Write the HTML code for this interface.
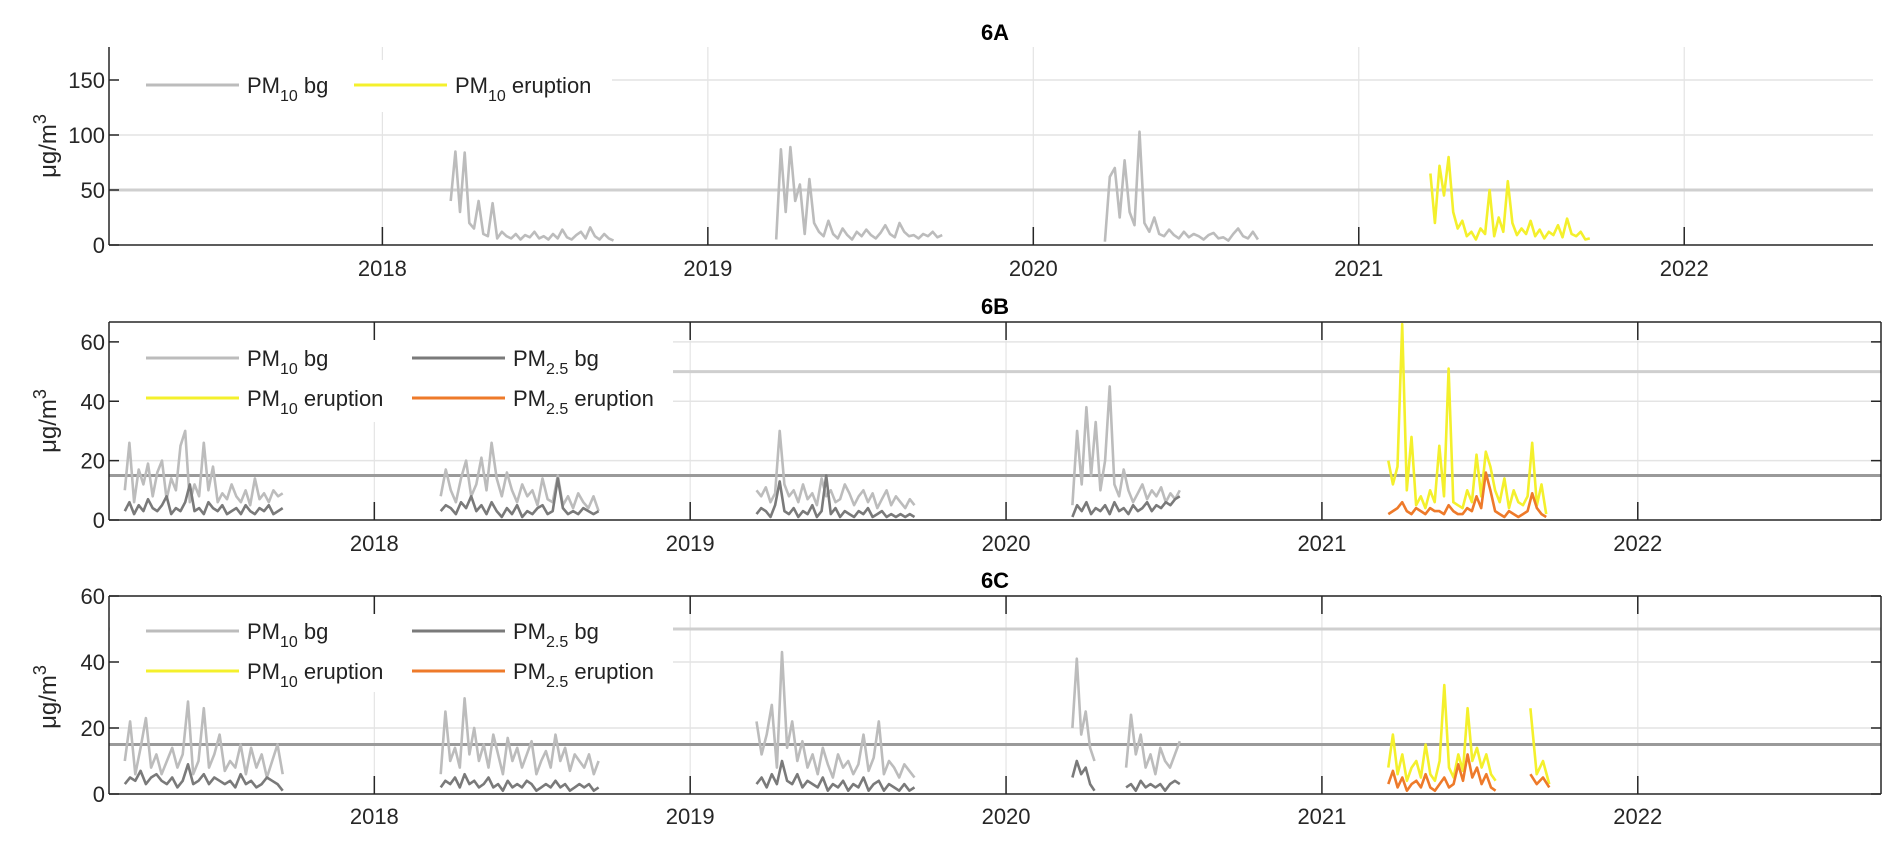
<!DOCTYPE html>
<html><head><meta charset="utf-8">
<style>
html,body{margin:0;padding:0;background:#fff;}
svg{display:block;font-family:"Liberation Sans Narrow","Liberation Sans",sans-serif;}
</style></head>
<body>
<svg id="chart" width="1892" height="842" viewBox="0 0 1892 842" xmlns="http://www.w3.org/2000/svg"></svg>
<script>
// ---------- DATA ----------
const yearTicks = [2018, 2019, 2020, 2021, 2022];
const panelTitles = ["6A", "6B", "6C"];
const yTicksA = [0, 50, 100, 150];
const yTicksBC = [0, 20, 40, 60];
const refLinesA = [50];
const refLinesBC = [50, 15];

// Panel A PM10 bg
const a10Start = [2018.21, 2019.21, 2020.22];
const a10End = [2018.71, 2019.72, 2020.69];
const a10Vals = [
 [40,85,30,84,20,15,40,10,8,38,6,12,8,6,10,5,9,7,12,6,8,5,10,6,14,7,5,9,12,6,16,8,5,10,6,4],
 [5,87,30,89,40,55,10,60,20,12,8,22,10,6,15,9,5,12,8,14,9,6,11,18,10,7,20,12,8,9,6,10,8,12,7,9],
 [3,62,70,25,77,30,18,103,20,12,25,10,8,14,9,6,12,7,10,8,5,9,11,6,7,4,10,15,8,6,12,5]
];
// Panel A PM10 eruption
const aEruStart = [2021.22];
const aEruEnd = [2021.71];
const aEruVals = [
 [65,20,72,45,80,30,15,22,8,12,5,15,10,50,8,25,12,58,20,9,15,10,22,8,14,6,12,9,18,7,24,10,8,12,5,6]
];

// Panel B
const b10Start = [2017.21, 2018.21, 2019.21, 2020.21];
const b10End = [2017.71, 2018.71, 2019.71, 2020.55];
const b10Vals = [
 [10,26,6,17,12,19,8,16,20,7,14,10,25,30,6,12,8,26,10,18,6,9,7,12,8,6,10,5,14,7,9,6,10,8,9],
 [8,17,10,6,14,20,8,12,21,10,26,14,8,16,10,6,12,8,10,5,14,7,6,15,5,8,4,9,6,4,8,3],
 [10,8,11,6,9,30,12,8,10,6,12,7,9,5,14,8,10,6,7,12,9,5,8,10,6,9,4,7,10,5,8,6,4,7,5],
 [5,30,12,38,15,33,10,20,45,12,8,17,10,6,9,12,7,10,8,11,6,9,7,10]
];
const b25Vals = [
 [3,6,2,5,3,7,4,3,5,8,2,4,3,6,12,3,4,2,6,4,3,5,2,3,4,2,5,3,2,4,3,5,2,3,4],
 [3,5,4,2,6,4,8,3,5,2,6,3,1,4,2,5,1,3,2,4,5,2,3,14,4,2,3,2,4,3,2,3],
 [2,4,3,1,5,13,3,2,4,1,3,2,5,1,3,15,2,4,1,3,2,1,3,2,4,1,2,3,1,2,1,2,1,2,1],
 [1,5,3,6,2,4,3,5,2,6,3,4,2,5,3,4,6,3,5,4,6,5,7,8]
];
const bEruStart = [2021.21];
const bEruEnd = [2021.71];
const bEru10Vals = [
 [20,12,18,66,10,28,5,8,4,10,6,25,8,51,6,5,4,10,6,22,8,23,18,10,6,14,4,10,6,5,8,26,5,12,2]
];
const bEru25Vals = [
 [2,3,4,6,3,2,4,3,2,4,3,3,2,5,3,2,2,4,3,8,4,16,10,3,2,1,3,2,1,2,3,9,4,2,1]
];

// Panel C
const c10Start = [2017.21, 2018.21, 2019.21, 2020.21, 2020.38];
const c10End = [2017.71, 2018.71, 2019.71, 2020.28, 2020.55];
const c10Vals = [
 [10,22,6,14,23,8,12,6,10,14,8,12,28,6,10,26,8,12,18,7,10,8,15,6,14,8,12,5,10,15,6],
 [6,25,10,14,8,29,12,20,10,15,8,18,12,6,17,10,14,8,12,16,6,10,13,8,18,10,14,7,12,10,8,12,6,10],
 [22,12,18,27,8,43,14,22,10,16,8,12,6,14,9,5,12,8,10,6,9,18,7,11,22,6,10,8,5,9,7,5],
 [20,41,18,25,14,10],
 [8,24,12,18,8,12,6,14,10,8,12,16]
];
const c25Vals = [
 [3,5,4,7,3,5,6,4,3,5,2,4,9,3,4,6,3,5,4,3,4,2,6,3,4,2,3,5,4,3,1],
 [2,4,3,5,2,6,3,4,2,3,5,2,3,1,4,2,3,2,4,3,1,2,3,2,4,2,3,1,2,3,2,3,1,2],
 [3,5,2,6,3,10,4,3,6,2,4,3,2,5,1,3,2,4,1,3,2,5,1,3,4,1,3,2,1,3,1,2],
 [5,10,6,8,3,1],
 [2,3,1,4,2,3,2,3,1,3,4,3]
];
const cEruStart = [2021.21, 2021.66];
const cEruEnd = [2021.55, 2021.72];
const cEru10Vals = [
 [8,18,6,12,4,8,10,5,15,6,4,10,33,8,5,12,7,26,10,14,8,12,6,4],
 [26,6,10,3]
];
const cEru25Vals = [
 [3,7,2,5,1,3,4,2,6,2,1,3,5,2,3,9,4,12,5,8,3,6,2,1],
 [6,3,5,2]
];

// ---------- DRAWING ----------
const NS = "http://www.w3.org/2000/svg";
const svg = document.getElementById("chart");
const COL = {p10bg:"#bcbcbc", p25bg:"#7a7a7a", p10e:"#f4f02c", p25e:"#ee7a2a"};

function mk(tag, attrs, parent){
  const e = document.createElementNS(NS, tag);
  for (const k in attrs) e.setAttribute(k, attrs[k]);
  (parent||svg).appendChild(e);
  return e;
}

const panels = [
 {title:panelTitles[0], left:109, right:1873, top:47, bottom:245, x0:2017.16, x1:2022.58, ymax:180, yTicks:yTicksA, refs:refLinesA, box:false, titleY:40, yearY:276, labelY:146,
  legend:{x:110,y:60,w:502,h:52}},
 {title:panelTitles[1], left:109, right:1881, top:322, bottom:520, x0:2017.16, x1:2022.77, ymax:66.7, yTicks:yTicksBC, refs:refLinesBC, box:true, titleY:314, yearY:551, labelY:421,
  legend:{x:110,y:330,w:563,h:92}},
 {title:panelTitles[2], left:109, right:1881, top:596, bottom:794, x0:2017.16, x1:2022.77, ymax:60, yTicks:yTicksBC, refs:refLinesBC, box:true, titleY:588, yearY:824, labelY:697,
  legend:{x:110,y:610,w:563,h:82}}
];

function xs(p, v){ return p.left + (v - p.x0) / (p.x1 - p.x0) * (p.right - p.left); }
function ys(p, v){ return p.bottom - v / p.ymax * (p.bottom - p.top); }

function drawSeries(p, g, starts, ends, vals, color, name){
  for (let s = 0; s < vals.length; s++){
    const arr = vals[s];
    const n = arr.length;
    let d = "";
    for (let i = 0; i < n; i++){
      const t = starts[s] + (ends[s] - starts[s]) * i / (n - 1);
      d += (i ? "L" : "M") + xs(p, t).toFixed(1) + "," + ys(p, arr[i]).toFixed(1);
    }
    const path = mk("path", {d:d, fill:"none", stroke:color, "stroke-width":2.6, "stroke-linejoin":"round"}, g);
    
    
  }
}

function legendEntry(g, x, y, color, sub, suffix, name){
  const grp = mk("g", {}, g);
  
  
  mk("line", {x1:x, y1:y, x2:x+93, y2:y, stroke:color, "stroke-width":3}, grp);
  const t = mk("text", {x:x+101, y:y+8, "font-size":22, fill:"#222"}, grp);
  t.appendChild(document.createTextNode("PM"));
  const ts = mk("tspan", {"font-size":16, dy:8}, t);
  ts.textContent = sub;
  const ts2 = mk("tspan", {dy:-8}, t);
  ts2.textContent = " " + suffix;
}

panels.forEach((p, pi) => {
  const key = ["a","b","c"][pi];
  const g = mk("g", {});
  
  

  // grid
  const grid = mk("g", {}, g);
  
  
  yearTicks.forEach(yr => { const x = xs(p, yr); mk("line", {x1:x, y1:p.top, x2:x, y2:p.bottom, stroke:"#e4e4e4", "stroke-width":1.2}, grid); });
  p.yTicks.forEach(v => { if (v > 0){ const y = ys(p, v); mk("line", {x1:p.left, y1:y, x2:p.right, y2:y, stroke:"#e4e4e4", "stroke-width":1.5}, grid); }});

  // reference lines
  p.refs.forEach((v, i) => {
    const y = ys(p, v);
    const l = mk("line", {x1:p.left, y1:y, x2:p.right, y2:y, stroke: v === 50 ? "#cfcfcf" : "#9a9a9a", "stroke-width":3}, g);
    
    
  });

  // series
  const sg = mk("g", {}, g);
  
  
  if (pi === 0){
    drawSeries(p, sg, a10Start, a10End, a10Vals, COL.p10bg, 'pm10-bg');
    drawSeries(p, sg, aEruStart, aEruEnd, aEruVals, COL.p10e, 'pm10-eruption');
  } else if (pi === 1){
    drawSeries(p, sg, b10Start, b10End, b10Vals, COL.p10bg, 'pm10-bg');
    drawSeries(p, sg, b10Start, b10End, b25Vals, COL.p25bg, 'pm25-bg');
    drawSeries(p, sg, bEruStart, bEruEnd, bEru10Vals, COL.p10e, 'pm10-eruption');
    drawSeries(p, sg, bEruStart, bEruEnd, bEru25Vals, COL.p25e, 'pm25-eruption');
  } else {
    drawSeries(p, sg, c10Start, c10End, c10Vals, COL.p10bg, 'pm10-bg');
    drawSeries(p, sg, c10Start, c10End, c25Vals, COL.p25bg, 'pm25-bg');
    drawSeries(p, sg, cEruStart, cEruEnd, cEru10Vals, COL.p10e, 'pm10-eruption');
    drawSeries(p, sg, cEruStart, cEruEnd, cEru25Vals, COL.p25e, 'pm25-eruption');
  }

  // legend
  const lg = mk("g", {}, g);
  
  
  mk("rect", {x:p.legend.x, y:p.legend.y, width:p.legend.w, height:p.legend.h, fill:"#fff"}, lg);
  if (pi === 0){
    legendEntry(lg, 146, 85, COL.p10bg, "10", "bg", 'legend-pm10-bg');
    legendEntry(lg, 354, 85, COL.p10e, "10", "eruption", 'legend-pm10-eruption');
  } else {
    const r1 = pi === 1 ? 358 : 631, r2 = pi === 1 ? 398 : 671;
    legendEntry(lg, 146, r1, COL.p10bg, "10", "bg", 'legend-pm10-bg');
    legendEntry(lg, 412, r1, COL.p25bg, "2.5", "bg", 'legend-pm25-bg');
    legendEntry(lg, 146, r2, COL.p10e, "10", "eruption", 'legend-pm10-eruption');
    legendEntry(lg, 412, r2, COL.p25e, "2.5", "eruption", 'legend-pm25-eruption');
  }

  // axes
  const ax = mk("g", {}, g);
  
  
  mk("line", {x1:p.left, y1:p.top, x2:p.left, y2:p.bottom, stroke:"#262626", "stroke-width":1.5}, ax);
  mk("line", {x1:p.left, y1:p.bottom, x2:p.right, y2:p.bottom, stroke:"#262626", "stroke-width":1.5}, ax);
  if (p.box){
    mk("line", {x1:p.left, y1:p.top, x2:p.right, y2:p.top, stroke:"#262626", "stroke-width":1.5}, ax);
    mk("line", {x1:p.right, y1:p.top, x2:p.right, y2:p.bottom, stroke:"#262626", "stroke-width":1.5}, ax);
  }
  yearTicks.forEach(yr => {
    const x = xs(p, yr);
    mk("line", {x1:x, y1:p.bottom, x2:x, y2:p.bottom - 18, stroke:"#262626", "stroke-width":1.5}, ax);
    if (p.box) mk("line", {x1:x, y1:p.top, x2:x, y2:p.top + 18, stroke:"#262626", "stroke-width":1.5}, ax);
    const t = mk("text", {x:x, y:p.yearY, "text-anchor":"middle", "font-size":22, fill:"#262626"}, ax);
    t.textContent = yr;
    
    
  });
  p.yTicks.forEach(v => {
    const y = ys(p, v);
    mk("line", {x1:p.left, y1:y, x2:p.left + 10, y2:y, stroke:"#262626", "stroke-width":1.5}, ax);
    if (p.box) mk("line", {x1:p.right, y1:y, x2:p.right - 10, y2:y, stroke:"#262626", "stroke-width":1.5}, ax);
    const t = mk("text", {x:p.left - 4, y:y + 8, "text-anchor":"end", "font-size":22, fill:"#262626"}, ax);
    t.textContent = v;
    
    
  });

  // y label
  const yl = mk("text", {x:0, y:0, transform:"translate(56," + p.labelY + ") rotate(-90)", "text-anchor":"middle", "font-size":24, fill:"#262626"}, g);
  
  
  yl.appendChild(document.createTextNode("\u03BCg/m"));
  const sup = mk("tspan", {dy:-10, "font-size":18}, yl);
  sup.textContent = "3";

  // title
  const tt = mk("text", {x:995, y:p.titleY, "text-anchor":"middle", "font-size":22, "font-weight":"bold", fill:"#000"}, g);
  tt.textContent = p.title;
  
  
});
</script>
</body></html>
